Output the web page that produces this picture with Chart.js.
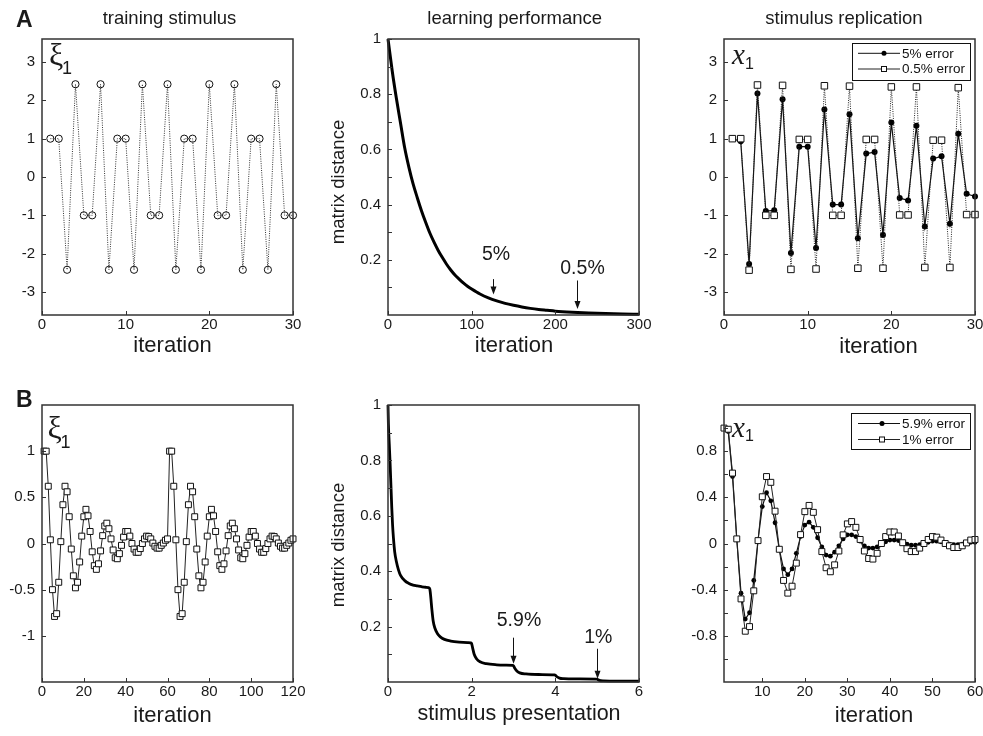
<!DOCTYPE html>
<html>
<head>
<meta charset="utf-8">
<title>Stimulus learning and replication</title>
<script src="https://cdn.jsdelivr.net/npm/chart.js@4.4.1/dist/chart.umd.min.js"></script>
<style>
  html, body { margin: 0; padding: 0; background: #fff; }
  body { position: relative; width: 983px; height: 736px; overflow: hidden; }
  canvas { position: absolute; }
</style>
</head>
<body>
<canvas id="a1"></canvas>
<canvas id="a2"></canvas>
<canvas id="a3"></canvas>
<canvas id="b1"></canvas>
<canvas id="b2"></canvas>
<canvas id="b3"></canvas>
<script>
// ---------------- data ----------------
// A: training stimulus (component xi_1), iterations 1..30
const iterA = range(1, 30);
const xiA = [1, 1, -2.42, 2.42, -1, -1, 2.42, -2.42, 1, 1, -2.42, 2.42, -1, -1, 2.42,
             -2.42, 1, 1, -2.42, 2.42, -1, -1, 2.42, -2.42, 1, 1, -2.42, 2.42, -1, -1];

// A: learning performance (matrix distance vs iteration)
const learnIterA = [0, 5, 10, 15, 20, 25, 30, 35, 40, 45, 50, 55, 60, 65, 70, 75, 80, 85, 90, 95,
                    100, 110, 120, 130, 140, 150, 160, 170, 180, 190, 200, 220, 240, 260, 280, 300];
const learnDistA = [1, 0.885, 0.785, 0.695, 0.605, 0.535, 0.475, 0.425, 0.378, 0.336, 0.297, 0.264,
                    0.234, 0.208, 0.184, 0.163, 0.145, 0.13, 0.116, 0.104, 0.094, 0.076, 0.062,
                    0.051, 0.042, 0.035, 0.029, 0.024, 0.02, 0.017, 0.014, 0.01, 0.007, 0.005,
                    0.0035, 0.0025];

// A: stimulus replication x_1 after training to 5% and 0.5% error
const rep5A = [1, 0.93, -2.27, 2.18, -0.89, -0.87, 2.03, -1.98, 0.79, 0.79, -1.85, 1.76, -0.72, -0.72,
               1.64, -1.6, 0.61, 0.65, -1.51, 1.42, -0.55, -0.61, 1.34, -1.29, 0.48, 0.54, -1.22,
               1.13, -0.44, -0.51];
const rep05A = [1, 1, -2.43, 2.4, -1, -1, 2.39, -2.41, 0.98, 0.98, -2.4, 2.38, -1, -1, 2.37, -2.38,
                0.98, 0.98, -2.38, 2.35, -0.99, -0.99, 2.35, -2.36, 0.96, 0.96, -2.36, 2.33,
                -0.98, -0.98];

// B: training stimulus (component xi_1), iterations 1..120
const iterB = range(1, 120);
const xiB = [
  1, 1, 0.62, 0.04, -0.5, -0.79, -0.76, -0.42, 0.02, 0.42, 0.62, 0.56, 0.29, -0.06, -0.35,
  -0.48, -0.42, -0.2, 0.08, 0.29, 0.37, 0.3, 0.13, -0.09, -0.24, -0.28, -0.22, -0.08, 0.085, 0.19,
  0.22, 0.16, 0.05, -0.07, -0.155, -0.165, -0.11, -0.02, 0.07, 0.13, 0.13, 0.08, 0, -0.06, -0.095,
  -0.095, -0.055, 0, 0.05, 0.08, 0.075, 0.05, 0.005, -0.03, -0.05, -0.05, -0.02, 0.005, 0.035, 0.05,
  1, 1, 0.62, 0.04, -0.5, -0.79, -0.76, -0.42, 0.02, 0.42, 0.62, 0.56, 0.29, -0.06, -0.35,
  -0.48, -0.42, -0.2, 0.08, 0.29, 0.37, 0.3, 0.13, -0.09, -0.24, -0.28, -0.22, -0.08, 0.085, 0.19,
  0.22, 0.16, 0.05, -0.07, -0.155, -0.165, -0.11, -0.02, 0.07, 0.13, 0.13, 0.08, 0, -0.06, -0.095,
  -0.095, -0.055, 0, 0.05, 0.08, 0.075, 0.05, 0.005, -0.03, -0.05, -0.05, -0.02, 0.005, 0.035, 0.05
];

// B: learning performance (matrix distance vs stimulus presentation)
const presB = [0, 0.01, 0.03, 0.05, 0.07, 0.09, 0.11, 0.13, 0.16, 0.2, 0.25, 0.3, 0.4, 0.5, 0.6, 0.7,
               0.8, 0.9, 0.97, 1.0, 1.02, 1.05, 1.08, 1.12, 1.18, 1.25, 1.35, 1.5, 1.7, 1.9, 1.98,
               2.0, 2.02, 2.06, 2.12, 2.2, 2.35, 2.6, 2.8, 2.98, 3.0, 3.03, 3.08, 3.15, 3.3, 3.6,
               3.98, 4.0, 4.03, 4.1, 4.2, 4.5, 4.98, 5.0, 5.05, 5.15, 5.5, 6.0];
const distB = [1, 0.93, 0.86, 0.79, 0.71, 0.63, 0.565, 0.52, 0.47, 0.435, 0.405, 0.385, 0.366, 0.356,
               0.35, 0.347, 0.344, 0.342, 0.341, 0.335, 0.31, 0.26, 0.22, 0.195, 0.175, 0.163, 0.154,
               0.148, 0.144, 0.142, 0.141, 0.138, 0.125, 0.1, 0.083, 0.073, 0.066, 0.062, 0.061,
               0.06, 0.058, 0.05, 0.04, 0.033, 0.029, 0.027, 0.026, 0.025, 0.02, 0.014, 0.012,
               0.011, 0.0105, 0.01, 0.006, 0.004, 0.003, 0.003];

// B: stimulus replication x_1 after training to 5.9% and 1% error, iterations 1..60
const iterB3 = range(1, 60);
const rep59B = [1, 0.97, 0.58, 0.04, -0.43, -0.655, -0.6, -0.32, 0.03, 0.32, 0.44, 0.37, 0.18, -0.05,
                -0.22, -0.27, -0.22, -0.085, 0.06, 0.16, 0.185, 0.14, 0.05, -0.03, -0.1, -0.11,
                -0.075, -0.02, 0.04, 0.075, 0.075, 0.06, 0.02, -0.02, -0.04, -0.04, -0.03, -0.01,
                0.015, 0.03, 0.03, 0.025, 0.01, -0.005, -0.015, -0.015, -0.01, 0, 0.01, 0.02, 0.02,
                0.015, 0.005, -0.005, -0.01, -0.01, -0.005, 0, 0.01, 0.01];
const rep1B = [1, 0.99, 0.61, 0.04, -0.48, -0.76, -0.72, -0.41, 0.025, 0.405, 0.58, 0.53, 0.28, -0.05,
               -0.32, -0.43, -0.37, -0.17, 0.077, 0.276, 0.33, 0.27, 0.12, -0.07, -0.21, -0.245,
               -0.185, -0.065, 0.075, 0.17, 0.19, 0.14, 0.035, -0.065, -0.13, -0.135, -0.085, 0,
               0.06, 0.1, 0.1, 0.065, 0.007, -0.045, -0.07, -0.07, -0.04, 0, 0.035, 0.06, 0.055,
               0.03, 0, -0.02, -0.035, -0.035, -0.02, 0.005, 0.03, 0.035];

// tick values
const ticksIter30 = [0, 10, 20, 30];
const ticksStim = [-3, -2, -1, 0, 1, 2, 3];
const ticksIter300 = [0, 100, 200, 300];
const ticksDist = [0.2, 0.4, 0.6, 0.8, 1];
const minorDist = [0.1, 0.3, 0.5, 0.7, 0.9];
const ticksIter120 = [0, 20, 40, 60, 80, 100, 120];
const ticksXiB = [-1, -0.5, 0, 0.5, 1];
const ticksPres = [0, 2, 4, 6];
const ticksIter60 = [10, 20, 30, 40, 50, 60];
const ticksRepB = [-0.8, -0.4, 0, 0.4, 0.8];
const minorRepB = [-1, -0.6, -0.2, 0.2, 0.6, 1];

function range(a, b) { const r = []; for (let i = a; i <= b; i++) r.push(i); return r; }

// ---------------- layout ----------------
const SANS = '"Liberation Sans", Arial, Helvetica, sans-serif';
const SERIF = '"Liberation Serif", "Times New Roman", serif';
const M_TOP = 36, M_RIGHT = 20, M_BOTTOM = 50;

const PANELS = {
  a1: { L: 42,  T: 39,  R: 293, B: 315, mL: 42 },
  a2: { L: 388, T: 39,  R: 639, B: 315, mL: 60 },
  a3: { L: 724, T: 39,  R: 975, B: 315, mL: 60 },
  b1: { L: 42,  T: 405, R: 293, B: 682, mL: 42 },
  b2: { L: 388, T: 405, R: 639, B: 682, mL: 60 },
  b3: { L: 724, T: 405, R: 975, B: 682, mL: 60 }
};

// text and annotations per panel, in page coordinates
const DECOR = {
  a1: {
    texts: [
      { t: 'A', x: 16, y: 26.5, font: 'bold 23px ' + SANS },
      { t: 'training stimulus', x: 169.5, y: 23.5, font: '18.5px ' + SANS, align: 'center' },
      { t: 'iteration', x: 172.5, y: 352, font: '22px ' + SANS, align: 'center' },
      { t: 'ξ', x: 49, y: 65, font: '32px ' + SERIF },
      { t: '1', x: 62, y: 73.5, font: '18px ' + SANS }
    ]
  },
  a2: {
    minorY: minorDist,
    texts: [
      { t: 'learning performance', x: 514.7, y: 23.5, font: '18.5px ' + SANS, align: 'center' },
      { t: 'iteration', x: 514, y: 352, font: '22px ' + SANS, align: 'center' },
      { t: 'matrix distance', x: 339, y: 182, font: '18.5px ' + SANS, align: 'center', rot: true },
      { t: '5%', x: 496, y: 260, font: '19.5px ' + SANS, align: 'center' },
      { t: '0.5%', x: 582.5, y: 274, font: '19.5px ' + SANS, align: 'center' }
    ],
    arrows: [
      { x: 125.6, from: 0.13, to: 0.074 },
      { x: 226.2, from: 0.125, to: 0.022 }
    ]
  },
  a3: {
    texts: [
      { t: 'stimulus replication', x: 844, y: 23.5, font: '18.5px ' + SANS, align: 'center' },
      { t: 'iteration', x: 878.5, y: 353, font: '22px ' + SANS, align: 'center' },
      { t: 'x', x: 732, y: 63.5, font: 'italic 29px ' + SERIF },
      { t: '1', x: 745, y: 68.5, font: '16px ' + SANS }
    ],
    legend: { box: [852, 42.5, 970, 79], rows: [53.3, 69], lineX: [858, 900], markX: 884, textX: 902 }
  },
  b1: {
    texts: [
      { t: 'B', x: 16, y: 406.5, font: 'bold 23px ' + SANS },
      { t: 'iteration', x: 172.5, y: 722, font: '22px ' + SANS, align: 'center' },
      { t: 'ξ', x: 47.5, y: 438, font: '32px ' + SERIF },
      { t: '1', x: 60.5, y: 447.5, font: '18px ' + SANS }
    ]
  },
  b2: {
    minorY: minorDist,
    texts: [
      { t: 'matrix distance', x: 339, y: 545, font: '18.5px ' + SANS, align: 'center', rot: true },
      { t: 'stimulus presentation', x: 519, y: 719.5, font: '21.5px ' + SANS, align: 'center' },
      { t: '5.9%', x: 519, y: 626, font: '19.5px ' + SANS, align: 'center' },
      { t: '1%', x: 598.3, y: 643.3, font: '19.5px ' + SANS, align: 'center' }
    ],
    arrows: [
      { x: 2.99, from: 0.16, to: 0.066 },
      { x: 4.99, from: 0.12, to: 0.012 }
    ]
  },
  b3: {
    minorY: minorRepB,
    texts: [
      { t: 'iteration', x: 874, y: 722, font: '22px ' + SANS, align: 'center' },
      { t: 'x', x: 732, y: 436.5, font: 'italic 29px ' + SERIF },
      { t: '1', x: 745, y: 441, font: '16px ' + SANS }
    ],
    legend: { box: [851, 413, 970, 449], rows: [423.5, 439.5], lineX: [858, 900], markX: 882, textX: 902 }
  }
};

// ---------------- drawing helpers ----------------
const decorPlugin = {
  id: 'panelDecor',
  afterDraw(chart) {
    const id = chart.canvas.id;
    const p = PANELS[id], d = DECOR[id];
    const ox = p.L - p.mL, oy = p.T - M_TOP;
    const ctx = chart.ctx;
    const { left, top, right, bottom } = chart.chartArea;
    const xs = chart.scales.x, ys = chart.scales.y;
    ctx.save();

    // inward tick marks on the bottom and left axes
    ctx.strokeStyle = '#333';
    ctx.lineWidth = 1;
    ctx.beginPath();
    xs.ticks.forEach(t => {
      const px = Math.round(xs.getPixelForValue(t.value)) + 0.5;
      ctx.moveTo(px, bottom); ctx.lineTo(px, bottom - 4);
    });
    ys.ticks.map(t => t.value).concat(d.minorY || []).forEach(v => {
      const py = Math.round(ys.getPixelForValue(v)) + 0.5;
      ctx.moveTo(left, py); ctx.lineTo(left + 4, py);
    });
    ctx.stroke();

    // axes box
    ctx.lineWidth = 1.5;
    ctx.strokeStyle = '#333';
    ctx.strokeRect(left, top, right - left, bottom - top);

    // arrows pointing at the curve
    (d.arrows || []).forEach(a => {
      const px = Math.round(xs.getPixelForValue(a.x)) + 0.5;
      const y0 = ys.getPixelForValue(a.from), y1 = ys.getPixelForValue(a.to);
      ctx.strokeStyle = '#111'; ctx.fillStyle = '#111'; ctx.lineWidth = 1;
      ctx.beginPath(); ctx.moveTo(px, y0); ctx.lineTo(px, y1 - 6); ctx.stroke();
      ctx.beginPath(); ctx.moveTo(px - 3, y1 - 8); ctx.lineTo(px + 3, y1 - 8); ctx.lineTo(px, y1); ctx.closePath(); ctx.fill();
    });

    // legend box
    if (d.legend) {
      const lg = d.legend;
      const [x0, y0, x1, y1] = lg.box.map((v, i) => v - (i % 2 ? oy : ox));
      ctx.fillStyle = '#fff';
      ctx.fillRect(x0, y0, x1 - x0, y1 - y0);
      ctx.strokeStyle = '#111'; ctx.lineWidth = 1;
      ctx.strokeRect(Math.round(x0) + 0.5, Math.round(y0) + 0.5, Math.round(x1 - x0), Math.round(y1 - y0));
      chart.data.datasets.forEach((ds, i) => {
        const ry = lg.rows[i] - oy;
        ctx.strokeStyle = ds.borderColor; ctx.lineWidth = 1; ctx.setLineDash([]);
        ctx.beginPath(); ctx.moveTo(lg.lineX[0] - ox, ry); ctx.lineTo(lg.lineX[1] - ox, ry); ctx.stroke();
        const mx = lg.markX - ox;
        if (ds.pointStyle === 'rect') {
          ctx.fillStyle = '#fff'; ctx.strokeStyle = '#111';
          ctx.fillRect(mx - 2.5, ry - 2.5, 5, 5);
          ctx.strokeRect(mx - 2.5, ry - 2.5, 5, 5);
        } else {
          ctx.fillStyle = '#000';
          ctx.beginPath(); ctx.arc(mx, ry, 2.5, 0, Math.PI * 2); ctx.fill();
        }
        ctx.fillStyle = '#111';
        ctx.font = '13.5px ' + SANS;
        ctx.textAlign = 'left'; ctx.textBaseline = 'middle';
        ctx.fillText(ds.label, lg.textX - ox, ry + 0.5);
      });
    }

    // titles, axis labels, variable names
    d.texts.forEach(tx => {
      ctx.save();
      ctx.fillStyle = '#1a1a1a';
      ctx.font = tx.font;
      ctx.textAlign = tx.align || 'left';
      if (tx.rot) {
        ctx.translate(tx.x - ox, tx.y - oy);
        ctx.rotate(-Math.PI / 2);
        ctx.textBaseline = 'middle';
        ctx.fillText(tx.t, 0, 0);
      } else {
        ctx.textBaseline = 'alphabetic';
        ctx.fillText(tx.t, tx.x - ox, tx.y - oy);
      }
      ctx.restore();
    });
    ctx.restore();
  }
};

function axis(min, max, tickVals, isX, size) {
  return {
    type: 'linear', min, max, bounds: 'data',
    grid: { display: false, drawTicks: false },
    border: { display: false },
    ticks: {
      font: { size: 15, family: SANS }, color: '#1a1a1a',
      padding: isX ? 1 : 7, maxRotation: 0, minRotation: 0, autoSkip: false,
      callback: v => String(v)
    },
    afterBuildTicks: s => { s.ticks = tickVals.map(v => ({ value: v })); },
    afterFit: isX ? (s => { s.height = size; }) : (s => { s.width = size; })
  };
}

function series(xs, ys, style) {
  return Object.assign({
    data: xs.map((x, i) => ({ x, y: ys[i] })),
    clip: false, tension: 0, fill: false
  }, style);
}

function makePanel(id, datasets, xRange, xTicks, yRange, yTicks) {
  const p = PANELS[id];
  const c = document.getElementById(id);
  const w = p.R - p.L + p.mL + M_RIGHT;
  const h = p.B - p.T + M_TOP + M_BOTTOM;
  c.width = w; c.height = h;
  c.style.width = w + 'px'; c.style.height = h + 'px';
  c.style.left = (p.L - p.mL) + 'px';
  c.style.top = (p.T - M_TOP) + 'px';
  return new Chart(c, {
    type: 'line',
    data: { datasets },
    options: {
      responsive: false, animation: false, events: [],
      layout: { padding: { top: M_TOP, right: M_RIGHT, left: 0, bottom: 0 } },
      plugins: { legend: { display: false }, tooltip: { enabled: false }, title: { display: false } },
      scales: {
        x: axis(xRange[0], xRange[1], xTicks, true, M_BOTTOM),
        y: axis(yRange[0], yRange[1], yTicks, false, p.mL)
      }
    },
    plugins: [decorPlugin]
  });
}

// ---------------- charts ----------------
makePanel('a1', [
  series(iterA, xiA, {
    label: 'xi1', borderColor: '#333', borderWidth: 1, borderDash: [1, 1.3],
    pointStyle: 'circle', pointRadius: 3.6, pointBorderWidth: 1,
    pointBorderColor: '#111', pointBackgroundColor: 'rgba(255,255,255,0)'
  })
], [0, 30], ticksIter30, [-3.6, 3.6], ticksStim);

makePanel('a2', [
  series(learnIterA, learnDistA, {
    label: 'matrix distance', borderColor: '#000', borderWidth: 3,
    pointRadius: 0, cubicInterpolationMode: 'monotone'
  })
], [0, 300], ticksIter300, [0, 1], ticksDist);

makePanel('a3', [
  series(iterA, rep5A, {
    label: '5% error', order: 1, borderColor: '#111', borderWidth: 1.2,
    pointStyle: 'circle', pointRadius: 3, pointBorderWidth: 0,
    pointBackgroundColor: '#000', pointBorderColor: '#000'
  }),
  series(iterA, rep05A, {
    label: '0.5% error', order: 0, borderColor: '#222', borderWidth: 1, borderDash: [1, 1.3],
    pointStyle: 'rect', pointRadius: 4.6, pointBorderWidth: 1,
    pointBackgroundColor: '#fff', pointBorderColor: '#111'
  })
], [0, 30], ticksIter30, [-3.6, 3.6], ticksStim);

makePanel('b1', [
  series(iterB, xiB, {
    label: 'xi1', borderColor: '#222', borderWidth: 1,
    pointStyle: 'rect', pointRadius: 4.2, pointBorderWidth: 1,
    pointBackgroundColor: '#fff', pointBorderColor: '#111'
  })
], [0, 120], ticksIter120, [-1.5, 1.5], ticksXiB);

makePanel('b2', [
  series(presB, distB, {
    label: 'matrix distance', borderColor: '#000', borderWidth: 2.8,
    pointRadius: 0, cubicInterpolationMode: 'monotone'
  })
], [0, 6], ticksPres, [0, 1], ticksDist);

makePanel('b3', [
  series(iterB3, rep59B, {
    label: '5.9% error', order: 1, borderColor: '#111', borderWidth: 1.2,
    pointStyle: 'circle', pointRadius: 2.4, pointBorderWidth: 0,
    pointBackgroundColor: '#000', pointBorderColor: '#000'
  }),
  series(iterB3, rep1B, {
    label: '1% error', order: 0, borderColor: '#222', borderWidth: 1,
    pointStyle: 'rect', pointRadius: 4.2, pointBorderWidth: 1,
    pointBackgroundColor: '#fff', pointBorderColor: '#111'
  })
], [1, 60], ticksIter60, [-1.2, 1.2], ticksRepB);
</script>
</body>
</html>
